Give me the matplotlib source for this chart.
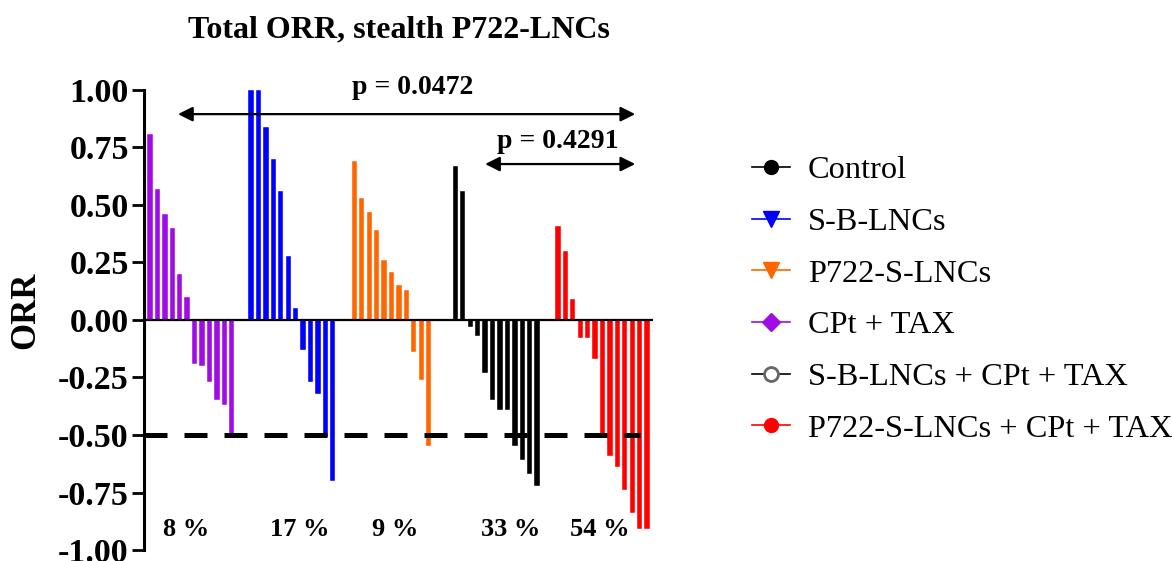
import matplotlib
matplotlib.use("Agg")
import matplotlib.pyplot as plt
from matplotlib.lines import Line2D
import numpy as np

plt.rcParams['font.family'] = ['Liberation Serif', 'DejaVu Serif']

# ---------------- data ----------------
groups = ["CPt + TAX", "S-B-LNCs", "P722-S-LNCs", "Control", "P722-S-LNCs + CPt + TAX"]
cpt_tax = [0.81, 0.57, 0.46, 0.40, 0.20, 0.10, -0.19, -0.20, -0.27, -0.35, -0.37, -0.50]
sb_lncs = [1.00, 1.00, 0.84, 0.70, 0.56, 0.28, 0.05, -0.13, -0.27, -0.32, -0.51, -0.70]
p722_lncs = [0.69, 0.53, 0.47, 0.39, 0.26, 0.21, 0.15, 0.13, -0.14, -0.26, -0.55]
control = [0.67, 0.56, -0.03, -0.07, -0.23, -0.35, -0.39, -0.39, -0.55, -0.61, -0.67, -0.72]
p722_cpt_tax = [0.41, 0.30, 0.09, -0.08, -0.08, -0.17, -0.50, -0.59, -0.64, -0.74, -0.84, -0.91, -0.91]
series = [cpt_tax, sb_lncs, p722_lncs, control, p722_cpt_tax]
percent_labels = ["8 %", "17 %", "9 %", "33 %", "54 %"]
p_values = ["p = 0.0472", "p = 0.4291"]
threshold = -0.5
yticks = [-1.0, -0.75, -0.5, -0.25, 0.0, 0.25, 0.5, 0.75, 1.0]

legend_labels = ["Control", "S-B-LNCs", "P722-S-LNCs", "CPt + TAX",
                 "S-B-LNCs + CPt + TAX", "P722-S-LNCs + CPt + TAX"]

# ---------------- style ----------------
colors = ["#A10BE6", "#0000FF", "#FF6600", "#000000", "#FF0000"]
group_starts = [0, 13.6, 27.5, 41.1, 54.9]

fig = plt.figure(figsize=(11.72, 5.61), dpi=100)
ax = fig.add_axes([0.1229, 0.0196, 0.4343, 0.8200])

for vals, c, s in zip(series, colors, group_starts):
    x = s + np.arange(len(vals))
    ax.bar(x, vals, width=0.72, color=c, edgecolor='white', linewidth=0.3, zorder=2)

ax.set_xlim(-0.8, 67.7)
ax.set_ylim(-1.0, 1.0)
ax.axhline(0, color='black', lw=1.6, zorder=3)

# dashed threshold
ln, = ax.plot([-0.8, 65.9], [threshold, threshold], color='black', lw=3.6, zorder=4)
ln.set_dashes((4.6, 3.4))
ln.set_dash_capstyle('butt')

for sp in ['top', 'right', 'bottom']:
    ax.spines[sp].set_visible(False)
ax.spines['left'].set_linewidth(2.2)
ax.set_xticks([])
ax.set_yticks(yticks)
ax.set_yticklabels([f"{v:.2f}" for v in yticks], fontweight='bold', fontsize=24.5)
ax.tick_params(axis='y', direction='out', length=9, width=2.0, pad=2)
ax.set_ylabel("ORR", fontweight='bold', fontsize=25)
ax.yaxis.set_label_coords(-0.2, 0.522)

ax.set_title("Total ORR, stealth P722-LNCs", fontweight='bold', fontsize=23, pad=38)

# percentages
pct_x = [4.9, 20.2, 33.0, 48.5, 60.6]
for px, t in zip(pct_x, percent_labels):
    ax.text(px, -0.91, t, ha='center', va='center', fontsize=19, fontweight='bold')

# p-value arrows
arrow_kw = dict(arrowstyle='<|-|>', color='black', lw=1.6, mutation_scale=22,
                shrinkA=0, shrinkB=0)
ax.annotate('', xy=(3.77, 0.895), xytext=(65.3, 0.895), arrowprops=arrow_kw,
            annotation_clip=False)
ax.annotate('', xy=(45.1, 0.678), xytext=(65.3, 0.678), arrowprops=arrow_kw,
            annotation_clip=False)
ax.text(35.3, 1.01, p_values[0], ha='center', va='center', fontsize=20,
        fontweight='bold', clip_on=False)
ax.text(54.9, 0.775, p_values[1], ha='center', va='center', fontsize=20,
        fontweight='bold', clip_on=False)

# legend
handles = [
    Line2D([], [], color='black', marker='o', markersize=10, markerfacecolor='black', markeredgecolor='black', lw=1.2),
    Line2D([], [], color='#0000FF', marker='v', markersize=11, markerfacecolor='#0000FF', markeredgecolor='#0000FF', lw=1.2),
    Line2D([], [], color='#FF6600', marker='v', markersize=11, markerfacecolor='#FF6600', markeredgecolor='#FF6600', lw=1.2),
    Line2D([], [], color='#A10BE6', marker='D', markersize=9, markerfacecolor='#A10BE6', markeredgecolor='#A10BE6', lw=1.2),
    Line2D([], [], color='black', marker='o', markersize=10, markerfacecolor='white', markeredgecolor='#666666', markeredgewidth=2, lw=1.2),
    Line2D([], [], color='#FF0000', marker='o', markersize=10, markerfacecolor='#FF0000', markeredgecolor='#FF0000', lw=1.2),
]
fig.legend(handles, legend_labels, loc='center left', bbox_to_anchor=(0.6416, 0.466),
           frameon=False, fontsize=23.3, handlelength=1.17, handletextpad=0.56,
           labelspacing=0.68, borderpad=0, borderaxespad=0)

fig.savefig("out.png", dpi=100)
